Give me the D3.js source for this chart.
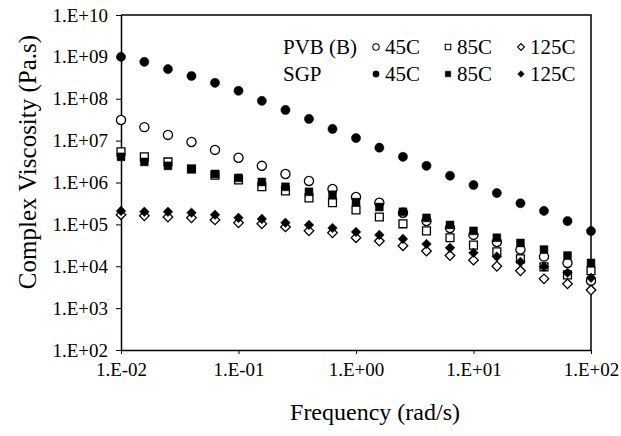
<!DOCTYPE html>
<html lang="en">
<head>
    <meta charset="UTF-8">
    <title>Complex Viscosity vs Frequency</title>
    <script src="https://d3js.org/d3.v7.min.js"></script>
    <style>
        body { margin: 0; background: #fff; }
        svg { font-family: "Liberation Serif", "Times New Roman", serif; }
        .axis path, .axis line { stroke: #000; }
        .axis text { font-size: 19px; fill: #000; font-family: "Liberation Serif", serif; }
    </style>
</head>
<body>
    <div id="chart"></div>
    <script>
        // Frequency (rad/s), five points per decade
        const freq = [0.01, 0.0158, 0.0251, 0.0398, 0.0631, 0.1, 0.158, 0.251, 0.398, 0.631,
                      1, 1.58, 2.51, 3.98, 6.31, 10, 15.8, 25.1, 39.8, 63.1, 100];

        // Complex viscosity (Pa.s)
        const pvb45 = [3.1e7, 2.1e7, 1.37e7, 9.3e6, 6.0e6, 3.9e6, 2.5e6, 1.6e6, 1.09e6, 7.0e5,
                       4.5e5, 3.3e5, 1.9e5, 1.2e5, 8.2e4, 5.6e4, 3.8e4, 2.5e4, 1.7e4, 1.2e4, 4.5e3];
        const pvb85 = [5.4e6, 4.1e6, 3.1e6, 2.1e6, 1.5e6, 1.15e6, 7.9e5, 6.3e5, 4.3e5, 3.3e5,
                       2.2e5, 1.5e5, 1.03e5, 7.0e4, 4.8e4, 3.2e4, 2.2e4, 1.5e4, 9.7e3, 6.2e3, 7.8e3];
        const pvb125 = [1.7e5, 1.6e5, 1.5e5, 1.43e5, 1.28e5, 1.09e5, 1.03e5, 8.7e4, 7.0e4, 6.3e4,
                        4.8e4, 4.0e4, 3.1e4, 2.3e4, 1.8e4, 1.4e4, 1.0e4, 7.8e3, 5.0e3, 3.8e3, 2.7e3];
        const sgp45 = [1.0e9, 7.6e8, 5.1e8, 3.5e8, 2.4e8, 1.55e8, 8.9e7, 5.4e7, 3.3e7, 1.9e7,
                       1.15e7, 6.8e6, 4.1e6, 2.5e6, 1.45e6, 8.7e5, 5.6e5, 3.2e5, 2.1e5, 1.2e5, 6.9e4];
        const sgp85 = [4.1e6, 3.1e6, 2.5e6, 2.1e6, 1.6e6, 1.29e6, 1.03e6, 7.9e5, 6.0e5, 5.1e5,
                       3.4e5, 2.6e5, 2.0e5, 1.43e5, 9.7e4, 7.0e4, 4.8e4, 3.6e4, 2.5e4, 1.8e4, 1.2e4];
        const sgp125 = [2.1e5, 2.0e5, 2.0e5, 1.9e5, 1.7e5, 1.43e5, 1.35e5, 1.09e5, 9.7e4, 8.2e4,
                        6.6e4, 5.6e4, 4.5e4, 3.4e4, 2.75e4, 2.1e4, 1.7e4, 1.27e4, 9.7e3, 7.0e3, 5.3e3];

        const xTicks = [1e-2, 1e-1, 1e0, 1e1, 1e2];
        const xTickLabels = ["1.E-02", "1.E-01", "1.E+00", "1.E+01", "1.E+02"];
        const yTicks = [1e2, 1e3, 1e4, 1e5, 1e6, 1e7, 1e8, 1e9, 1e10];
        const yTickLabels = ["1.E+02", "1.E+03", "1.E+04", "1.E+05", "1.E+06",
                             "1.E+07", "1.E+08", "1.E+09", "1.E+10"];

        const legendGroups = ["PVB (B)", "SGP"];
        const legendTemps = ["45C", "85C", "125C"];

        // PVB drawn first, SGP on top
        const series = [
            { group: 0, temp: 0, values: pvb45, shape: "circle", filled: false },
            { group: 0, temp: 1, values: pvb85, shape: "square", filled: false },
            { group: 0, temp: 2, values: pvb125, shape: "diamond", filled: false },
            { group: 1, temp: 0, values: sgp45, shape: "circle", filled: true },
            { group: 1, temp: 1, values: sgp85, shape: "square", filled: true },
            { group: 1, temp: 2, values: sgp125, shape: "diamond", filled: true }
        ];

        const W = 621, H = 436;
        const margin = { top: 15, right: 30, bottom: 86, left: 121 };
        const width = W - margin.left - margin.right;
        const height = H - margin.top - margin.bottom;

        const svg = d3.select('#chart').append('svg')
            .attr('width', W)
            .attr('height', H);

        const chart = svg.append('g')
            .attr('transform', `translate(${margin.left},${margin.top})`);

        const x = d3.scaleLog().domain([1e-2, 1e2]).range([0, width]);
        const y = d3.scaleLog().domain([1e2, 1e10]).range([height, 0]);

        // frame (top and right border)
        chart.append('path')
            .attr('d', `M0,0H${width}V${height}`)
            .attr('fill', 'none')
            .attr('stroke', '#000')
            .attr('stroke-width', 1.5);

        // axes
        chart.append('g')
            .attr('class', 'axis')
            .attr('transform', `translate(0,${height})`)
            .call(d3.axisBottom(x)
                .tickValues(xTicks)
                .tickFormat((d, i) => xTickLabels[i])
                .tickSize(4)
                .tickSizeOuter(0)
                .tickPadding(9));

        chart.append('g')
            .attr('class', 'axis')
            .call(d3.axisLeft(y)
                .tickValues(yTicks)
                .tickFormat((d, i) => yTickLabels[i])
                .tickSize(5)
                .tickSizeOuter(0)
                .tickPadding(8));

        svg.selectAll('.axis .domain').attr('stroke-width', 1.5);

        // marker shapes
        function symbolPath(shape, scale) {
            if (shape === 'circle') return d3.symbol(d3.symbolCircle, 66 * scale * scale)();
            if (shape === 'square') return d3.symbol(d3.symbolSquare, 62 * scale * scale)();
            return d3.symbol(d3.symbolSquare, 46 * scale * scale)();
        }

        series.forEach(s => {
            chart.append('g')
                .selectAll('path')
                .data(s.values)
                .enter()
                .append('path')
                .attr('d', symbolPath(s.shape, 1))
                .attr('transform', (d, i) => `translate(${x(freq[i])},${y(d)})` +
                    (s.shape === 'diamond' ? ' rotate(45)' : ''))
                .attr('fill', s.filled ? '#000' : '#fff')
                .attr('stroke', '#000')
                .attr('stroke-width', s.filled ? 0.5 : 1.3);
        });

        // legend
        const legend = svg.append('g').attr('font-size', 21);
        const rowY = [47, 74];
        const tempX = [376, 448, 521];

        legendGroups.forEach((g, r) => {
            legend.append('text')
                .attr('x', 283)
                .attr('y', rowY[r])
                .attr('dy', '0.35em')
                .text(g);
        });

        series.forEach(s => {
            const cx = tempX[s.temp], cy = rowY[s.group];
            legend.append('path')
                .attr('d', symbolPath(s.shape, 0.7))
                .attr('transform', `translate(${cx},${cy})` + (s.shape === 'diamond' ? ' rotate(45)' : ''))
                .attr('fill', s.filled ? '#000' : '#fff')
                .attr('stroke', '#000')
                .attr('stroke-width', s.filled ? 0.5 : 1.1);
            legend.append('text')
                .attr('x', cx + 9)
                .attr('y', cy)
                .attr('dy', '0.35em')
                .text(legendTemps[s.temp]);
        });

        // axis titles
        svg.append('text')
            .attr('x', 375)
            .attr('y', 412)
            .attr('dy', '0.35em')
            .attr('text-anchor', 'middle')
            .attr('font-size', 24)
            .text('Frequency (rad/s)');

        svg.append('text')
            .attr('transform', 'translate(27,162) rotate(-90)')
            .attr('dy', '0.35em')
            .attr('text-anchor', 'middle')
            .attr('font-size', 25)
            .text('Complex Viscosity (Pa.s)');
    </script>
</body>
</html>
